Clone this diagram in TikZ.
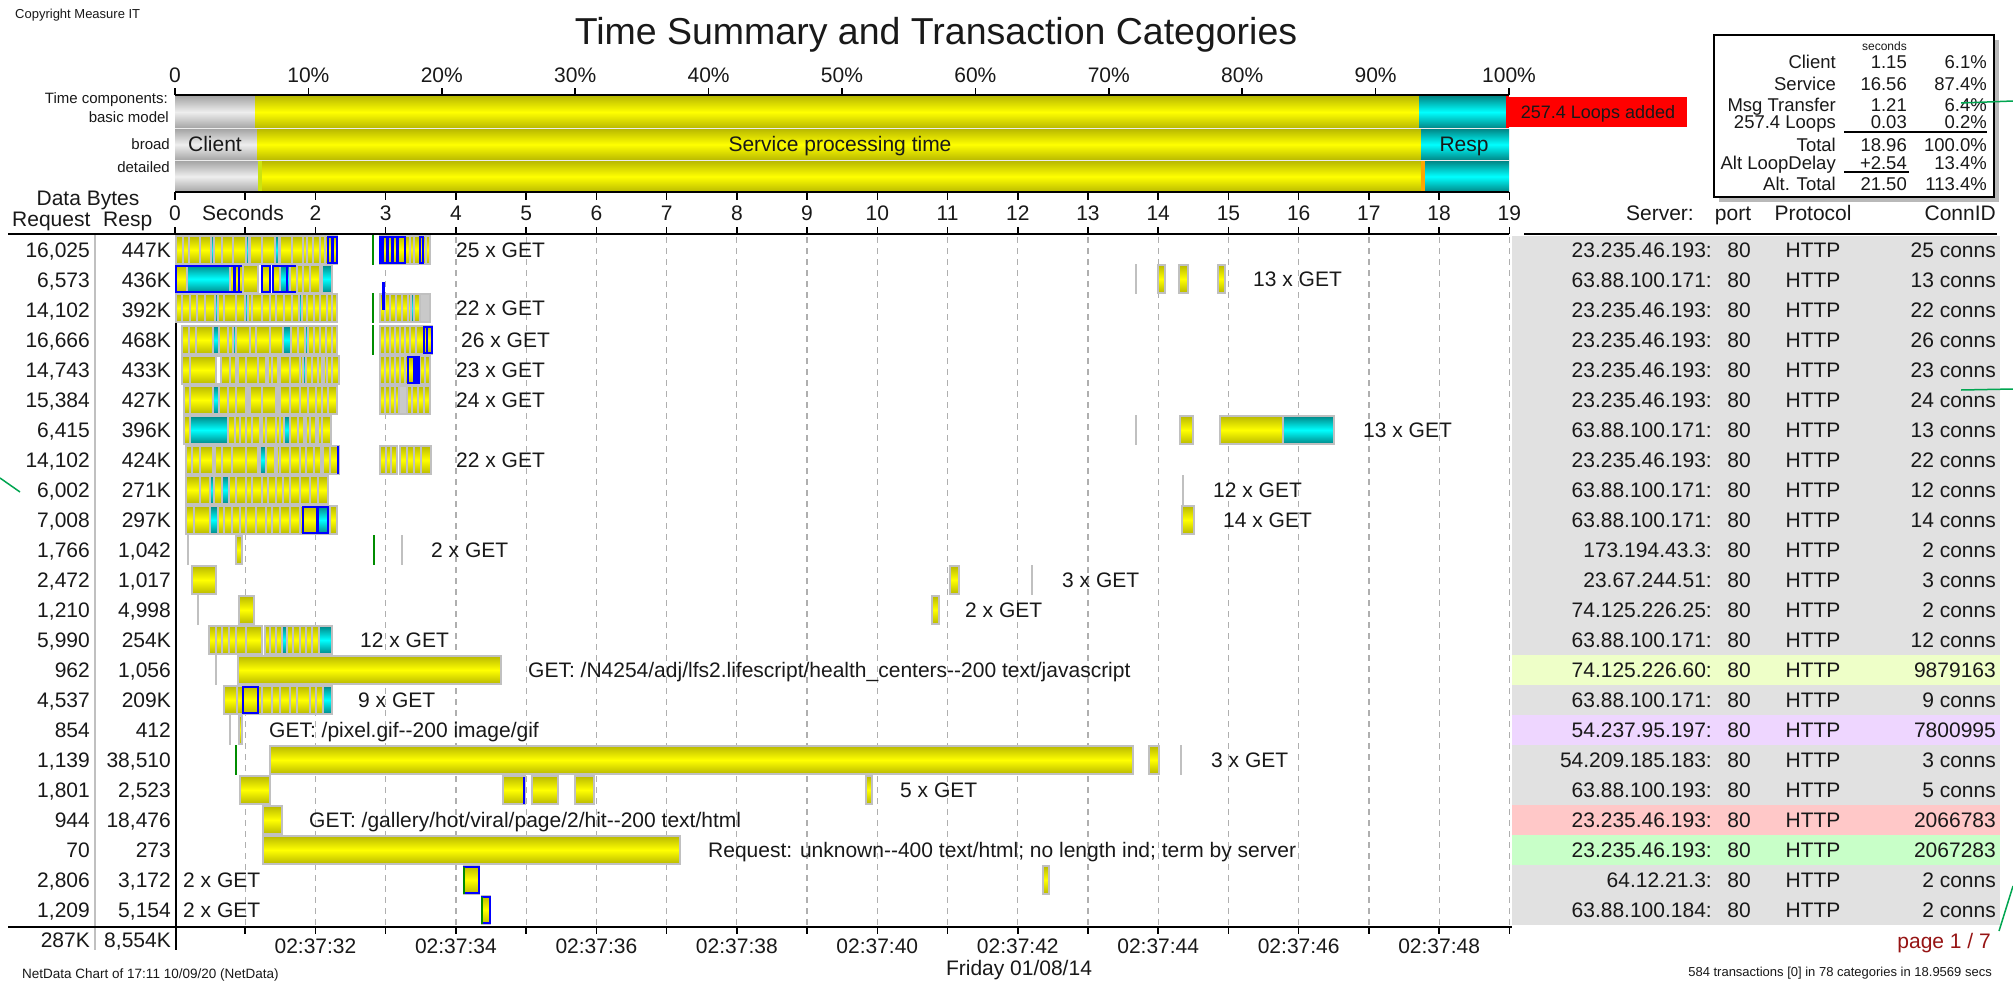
\documentclass[tikz,border=0pt]{standalone}
\usepackage{fontspec}
\setmainfont{Liberation Sans}
\definecolor{ink}{RGB}{25,25,25}
\definecolor{ydark}{RGB}{185,185,0}
\definecolor{ylite}{RGB}{255,255,0}
\definecolor{cdark}{RGB}{0,135,135}
\definecolor{clite}{RGB}{0,255,255}
\definecolor{gdark}{RGB}{165,165,165}
\definecolor{glite}{RGB}{238,238,238}
\definecolor{edge}{RGB}{192,192,192}
\definecolor{tablebg}{RGB}{225,225,225}
\definecolor{rowyel}{RGB}{238,255,200}
\definecolor{rowlav}{RGB}{238,214,255}
\definecolor{rowpink}{RGB}{255,200,200}
\definecolor{rowgreen}{RGB}{200,255,200}
\definecolor{gridgray}{RGB}{175,175,175}
\definecolor{annot}{RGB}{0,165,80}
\definecolor{pagered}{RGB}{150,20,20}
\definecolor{conblue}{RGB}{0,0,255}
\definecolor{startgreen}{RGB}{0,140,0}
\newcommand\fsz[1]{\fontsize{#1}{#1}\selectfont}
\tikzset{
  yshade/.style={top color=ydark, bottom color=ydark, middle color=ylite},
  cshade/.style={top color=cdark, bottom color=cdark, middle color=clite},
  gshade/.style={top color=gdark, bottom color=gdark, middle color=glite},
  segedge/.style={draw=edge, line width=1.2pt},
  txt/.style={inner sep=0pt, text=ink, font=\fsz{21}},
  leg/.style={inner sep=0pt, text=ink, font=\fsz{18.5}},
  small/.style={inner sep=0pt, text=ink, font=\fsz{13}},
  axisline/.style={black, line width=1.5pt},
  gridline/.style={gridgray, line width=1.2pt, dash pattern=on 6pt off 5pt},
  annotline/.style={annot, line width=1.5pt},
}
% transaction segments: x1, x2, row centre
\newcommand\txy[3]{\shadedraw[yshade,segedge] (#1,#3-14) rectangle (#2,#3+14);}
\newcommand\txc[3]{\shadedraw[cshade,segedge] (#1,#3-14) rectangle (#2,#3+14);}
\newcommand\txb[3]{\draw[conblue,line width=1.6pt] (#1,#3-13) rectangle (#2,#3+13);}
\newcommand\txbf[3]{\fill[conblue] (#1,#3-14) rectangle (#2,#3+14);}
\newcommand\txd[2]{\foreach \dv in {#2}{\draw[segedge] (\dv,#1-14) -- (\dv,#1+14);}}
\newcommand\txg[2]{\draw[edge,line width=1.6pt] (#1,#2-15) -- (#1,#2+15);}
\newcommand\txs[2]{\draw[startgreen,line width=1.6pt] (#1,#2-15) -- (#1,#2+15);}
\begin{document}
\begin{tikzpicture}[x=1pt,y=-1pt]
\useasboundingbox (0,0) rectangle (2013,980);
\fill[white] (0,0) rectangle (2013,980);

% ---------- headings ----------
\node[small, anchor=base west] (copy) at (15,18) {Copyright Measure IT};
\node[inner sep=0pt, text=ink, font=\fsz{37.5}, anchor=base] (title) at (936,44) {Time Summary and Transaction Categories};

% ---------- time components chart ----------
\foreach \k/\lab in {0/0,1/10\%,2/20\%,3/30\%,4/40\%,5/50\%,6/60\%,7/70\%,8/80\%,9/90\%,10/100\%}{
  \node[txt, anchor=base] (pct\k) at ({175+133.4*\k},82) {\lab};
  \draw[axisline] ({175+133.4*\k},88) -- ({175+133.4*\k},95);
}
\node[inner sep=0pt, text=ink, font=\fsz{15}, anchor=base east] (tc1) at (168,103) {Time components:};
\node[inner sep=0pt, text=ink, font=\fsz{15}, anchor=base east] (tc2) at (169,122) {basic model};
\node[inner sep=0pt, text=ink, font=\fsz{15}, anchor=base east] (tc3) at (170,149) {broad};
\node[inner sep=0pt, text=ink, font=\fsz{15}, anchor=base east] (tc4) at (170,172) {detailed};

% basic model
\shade[gshade] (175,96) rectangle (255,128);
\shade[yshade] (255,96) rectangle (1419,128);
\shade[cshade] (1419,96) rectangle (1507,128);
\fill[red] (1506,96) rectangle (1509,128);
% broad
\shade[gshade] (175,129) rectangle (257,160);
\shade[yshade] (257,129) rectangle (1421,160);
\shade[cshade] (1421,129) rectangle (1509,160);
% detailed
\shade[gshade] (175,161) rectangle (258,192);
\fill[yellow!80!green] (258,161) rectangle (262,192);
\shade[yshade] (262,161) rectangle (1421,192);
\fill[orange!70!yellow] (1421,161) rectangle (1425,192);
\shade[cshade] (1425,161) rectangle (1509,192);
\draw[white!85!gray, line width=1.5pt] (175,128.5) -- (1509,128.5) (175,160.5) -- (1509,160.5);

\node[txt, anchor=base] (client) at (215,151) {Client};
\node[txt, anchor=base] (service) at (840,151) {Service processing time};
\node[txt, anchor=base] (resp) at (1464,151) {Resp};

\fill[red] (1509,97) rectangle (1687,127);
\node[inner sep=0pt, text=ink, font=\fsz{18}, anchor=base] (loops) at (1598,118) {257.4 Loops added};

\draw[axisline] (175,95) -- (1509,95);
\draw[axisline] (175,192) -- (1509,192);

% ---------- seconds axis ----------
\foreach \k in {0,...,19}{
  \draw[axisline] ({175+70.23*\k},192) -- ({175+70.23*\k},200);
  \draw[axisline] ({175+70.23*\k},227) -- ({175+70.23*\k},234);
}
\foreach \k in {0,2,3,...,19}{
  \node[txt, anchor=base] (sec\k) at ({175+70.23*\k},220) {\k};
}
\node[txt, anchor=base] (seclab) at (243,220) {Seconds};

\node[txt, anchor=base] (databytes) at (88,205) {Data Bytes};
\node[txt, anchor=base west] (hreq) at (12,226) {Request};
\node[txt, anchor=base west] (hresp) at (103,226) {Resp};

\node[txt, anchor=base east] (hsrv) at (1694,220) {Server:};
\node[txt, anchor=base] (hport) at (1733,220) {port};
\node[txt, anchor=base] (hprot) at (1813,220) {Protocol};
\node[txt, anchor=base east] (hcid) at (1996,220) {ConnID};

% ---------- right table background ----------
\fill[tablebg] (1512,236) rectangle (2000,925);
\fill[rowyel] (1512,655) rectangle (2000,685);
\fill[rowlav] (1512,715) rectangle (2000,745);
\fill[rowpink] (1512,805) rectangle (2000,835);
\fill[rowgreen] (1512,835) rectangle (2000,865);

% ---------- grid ----------
\foreach \k in {1,...,19}{
  \draw[gridline] ({175+70.23*\k},237) -- ({175+70.23*\k},925);
}

\draw[axisline] (8,234) -- (1509,234);
\draw[axisline] (1524,234) -- (1997,234);
\draw[edge, line width=1.5pt] (95,235) -- (95,950);
\draw[axisline] (176,234) -- (176,950);
\draw[axisline] (8,927) -- (1512,927);
\foreach \k in {1,...,19}{
  \draw[axisline] ({175+70.23*\k},927) -- ({175+70.23*\k},934);
}

% ---------- table rows ----------
\foreach \rq/\rs/\sv/\cid [count=\i] in {
 {16,025}/447K/23.235.46.193/25 conns,
 {6,573}/436K/63.88.100.171/13 conns,
 {14,102}/392K/23.235.46.193/22 conns,
 {16,666}/468K/23.235.46.193/26 conns,
 {14,743}/433K/23.235.46.193/23 conns,
 {15,384}/427K/23.235.46.193/24 conns,
 {6,415}/396K/63.88.100.171/13 conns,
 {14,102}/424K/23.235.46.193/22 conns,
 {6,002}/271K/63.88.100.171/12 conns,
 {7,008}/297K/63.88.100.171/14 conns,
 {1,766}/{1,042}/173.194.43.3/2 conns,
 {2,472}/{1,017}/23.67.244.51/3 conns,
 {1,210}/{4,998}/74.125.226.25/2 conns,
 {5,990}/254K/63.88.100.171/12 conns,
 962/{1,056}/74.125.226.60/9879163,
 {4,537}/209K/63.88.100.171/9 conns,
 854/412/54.237.95.197/7800995,
 {1,139}/{38,510}/54.209.185.183/3 conns,
 {1,801}/{2,523}/63.88.100.193/5 conns,
 944/{18,476}/23.235.46.193/2066783,
 70/273/23.235.46.193/2067283,
 {2,806}/{3,172}/64.12.21.3/2 conns,
 {1,209}/{5,154}/63.88.100.184/2 conns}{
  \node[txt, anchor=base east] (rq\i) at (90,{227+30*\i}) {\rq};
  \node[txt, anchor=base east] (rs\i) at (171,{227+30*\i}) {\rs};
  \node[txt, anchor=base east] (sv\i) at (1712,{227+30*\i}) {\sv:};
  \node[txt, anchor=base] (pt\i) at (1739,{227+30*\i}) {80};
  \node[txt, anchor=base] (pr\i) at (1813,{227+30*\i}) {HTTP};
  \node[txt, anchor=base east] (ci\i) at (1996,{227+30*\i}) {\cid};
}

% ---------- transaction bars ----------
% row 1
\txy{176}{337}{250}
\txd{250}{183,189,200,212,222,233,246,250,262,276,280,292,303,307,313,320,325}
\txc{211}{214}{250}\txc{246}{249}{250}\txc{275}{279}{250}
\txbf{331}{334}{250}\txb{328}{337}{250}
\txs{373}{250}
\txy{380}{430}{250}
\txd{250}{405,410,414,420,426}
\txbf{381}{384}{250}\txbf{386}{389}{250}\txbf{391}{394}{250}\txbf{396}{399}{250}
\txb{380}{405}{250}\txb{420}{423}{250}
% row 2
\txy{176}{187}{279}\txc{187}{230}{279}\txy{230}{243}{279}
\txbf{233}{236}{279}\txbf{238}{240}{279}
\txb{176}{243}{279}
\txy{243}{258}{279}
\txy{262}{270}{279}\txb{262}{270}{279}
\txy{273}{297}{279}\txc{280}{290}{279}\txb{273}{297}{279}\txbf{286}{288}{279}
\txy{297}{303}{279}\txy{303}{320}{279}\txd{279}{310}
\txc{322}{332}{279}
\txg{1136}{279}
\txy{1158}{1165}{279}\txy{1179}{1188}{279}\txy{1218}{1225}{279}
% row 3
\txy{176}{337}{308}
\txd{308}{182,190,197,205,216,224,236,246,252,262,270,276,284,292,300,307,314,320,327,332}
\txc{215}{218}{308}\txc{245}{248}{308}\txc{299}{302}{308}
\txs{373}{308}
\txy{380}{430}{308}
\txd{308}{385,390,396,402,408,414,420}
\txc{411}{414}{308}
\fill[gdark!60] (421,295) rectangle (429,321);
\txbf{382}{385}{296}
% row 4
\txy{182}{337}{340}
\txd{340}{189,196,213,219,228,233,236,250,256,270,283,291,298,305,308,314,320,326,332}
\txc{213}{219}{340}\txc{233}{236}{340}\txc{283}{291}{340}\txc{305}{308}{340}
\txs{373}{340}
\txy{380}{432}{340}
\txd{340}{385,390,395,400,405,410,416}
\txb{424}{432}{340}\txbf{426}{428}{340}
% row 5
\txy{182}{339}{370}
\txd{370}{190,216,221,230,238,246,258,268,272,280,290,300,306,312,318,324,327,332}
\fill[white] (217,357) rectangle (220,383);
\txc{236}{238}{370}\txc{266}{268}{370}\txc{278}{280}{370}\txc{303}{306}{370}\txc{322}{324}{370}
\txy{380}{430}{370}
\txd{370}{385,390,395,400,405,420,425}
\txbf{413}{419}{370}\txb{408}{419}{370}
% row 6
\txy{184}{337}{400}
\txd{400}{190,213,219,228,236,246,250,262,276,280,290,300,308,316,322,328}
\txc{213}{219}{400}\txc{246}{248}{400}\txc{276}{278}{400}
\txy{380}{430}{400}
\fill[gdark!60] (399,387) rectangle (407,413);
\txd{400}{385,390,395,399,407,412,418,424}
% row 7
\txy{184}{331}{430}
\txc{190}{228}{430}
\txd{430}{235,240,246,252,260,266,276,280,284,290,298,304,310,316,322}
\txc{260}{262}{430}\txc{284}{290}{430}\txc{304}{306}{430}\txc{316}{318}{430}
\txg{1136}{430}
\txy{1180}{1193}{430}
\txy{1220}{1283}{430}\txc{1283}{1334}{430}
% row 8
\txy{186}{339}{460}
\txd{460}{192,200,213,215,222,232,246,258,266,275,280,290,300,306,314,321,323,330}
\txc{213}{215}{460}\txc{260}{266}{460}\txc{275}{277}{460}\txc{321}{323}{460}
\draw[conblue, line width=2pt] (338,446) -- (338,474);
\txy{380}{397}{460}\txd{460}{386,391}
\txy{400}{431}{460}\txd{460}{407,414,421}
% row 9
\txy{186}{328}{490}
\txd{490}{200,210,214,222,229,236,246,252,262,268,276,283,290,300,310,318}
\txc{210}{214}{490}\txc{222}{229}{490}
\txg{1183}{490}
% row 10
\txy{186}{337}{520}
\txd{520}{194,210,218,224,232,240,246,256,266,272,280,290,300,303}
\txc{210}{218}{520}\txc{318}{330}{520}
\txb{303}{328}{520}\txbf{316}{319}{520}
\txy{1182}{1194}{520}
% row 11
\txg{188}{550}
\txy{236}{242}{550}
\txs{374}{550}
\txg{402}{550}
% row 12
\txy{192}{216}{580}
\txy{950}{959}{580}
\txg{1032}{580}
% row 13
\txg{198}{610}
\txy{239}{254}{610}
\txy{932}{939}{610}
% row 14
\txy{209}{262}{640}\txd{640}{216,222,229,236,246}
\txy{265}{332}{640}\txd{640}{270,276,282,287,293,300,306,312,319}
\txc{282}{287}{640}\txc{319}{332}{640}
% row 15
\txg{216}{670}
\txy{238}{501}{670}
% row 16
\txy{224}{330}{700}
\txd{700}{237,262,272,280,290,297,310,316}
\txb{243}{258}{700}
\txc{323}{332}{700}
% row 17
\txg{230}{730}
\txy{239}{242}{730}
% row 18
\txs{236}{760}
\txy{270}{1133}{760}
\txy{1149}{1159}{760}
\txg{1181}{760}
% row 19
\txy{240}{270}{790}
\txy{503}{525}{790}\draw[conblue, line width=1.6pt] (524,777) -- (524,804);
\txy{532}{558}{790}
\txy{575}{594}{790}
\txy{866}{872}{790}
% row 20
\txy{263}{282}{820}
% row 21
\txy{263}{680}{850}
% row 22
\txy{464}{479}{880}\txb{464}{479}{880}\draw[startgreen, line width=1.6pt] (464,867) -- (464,894);
\txy{1043}{1049}{880}
% row 23
\txy{482}{490}{910}\txb{482}{490}{910}\draw[startgreen, line width=1.6pt] (482,897) -- (482,924);

% ---------- bar labels ----------
\node[txt, anchor=base west] (lab1) at (456,257) {25 x GET};
\node[txt, anchor=base west] (lab2) at (1253,286) {13 x GET};
\node[txt, anchor=base west] (lab3) at (456,315) {22 x GET};
\node[txt, anchor=base west] (lab4) at (461,347) {26 x GET};
\node[txt, anchor=base west] (lab5) at (456,377) {23 x GET};
\node[txt, anchor=base west] (lab6) at (456,407) {24 x GET};
\node[txt, anchor=base west] (lab7) at (1363,437) {13 x GET};
\node[txt, anchor=base west] (lab8) at (456,467) {22 x GET};
\node[txt, anchor=base west] (lab9) at (1213,497) {12 x GET};
\node[txt, anchor=base west] (lab10) at (1223,527) {14 x GET};
\node[txt, anchor=base west] (lab11) at (431,557) {2 x GET};
\node[txt, anchor=base west] (lab12) at (1062,587) {3 x GET};
\node[txt, anchor=base west] (lab13) at (965,617) {2 x GET};
\node[txt, anchor=base west] (lab14) at (360,647) {12 x GET};
\node[txt, anchor=base west] (lab15) at (528,677) {GET: /N4254/adj/lfs2.lifescript/health\_centers-{}-200 text/javascript};
\node[txt, anchor=base west] (lab16) at (358,707) {9 x GET};
\node[txt, anchor=base west] (lab17) at (269,737) {GET: /pixel.gif-{}-200 image/gif};
\node[txt, anchor=base west] (lab18) at (1211,767) {3 x GET};
\node[txt, anchor=base west] (lab19) at (900,797) {5 x GET};
\node[txt, anchor=base west] (lab20) at (309,827) {GET: /gallery/hot/viral/page/2/hit-{}-200 text/html};
\node[txt, anchor=base west] (lab21) at (708,857) {Request: unknown-{}-400 text/html; no length ind; term by server};
\node[txt, anchor=base west] (lab22) at (183,887) {2 x GET};
\node[txt, anchor=base west] (lab23) at (183,917) {2 x GET};

% ---------- footer ----------
\node[txt, anchor=base east] (treq) at (90,947) {287K};
\node[txt, anchor=base east] (tresp) at (171,947) {8,554K};
\foreach \k in {2,4,...,18}{
  \pgfmathtruncatemacro\sc{30+\k}
  \node[txt, anchor=base] (clk\k) at ({175+70.23*\k},953) {02:37:\sc};
}
\node[txt, anchor=base] (day) at (1019,975) {Friday 01/08/14};
\node[inner sep=0pt, text=ink, font=\fsz{13.5}, anchor=base west] (netdata) at (22,978) {NetData Chart of 17:11 10/09/20 (NetData)};
\node[inner sep=0pt, text=pagered, font=\fsz{21}, anchor=base east] (page) at (1991,948) {page 1 / 7};
\node[small, anchor=base east] (summary) at (1992,976) {584 transactions [0] in 78 categories in 18.9569 secs};

% ---------- totals box ----------
\fill[gray!55] (1719,40) rectangle (1999,202);
\draw[fill=white, line width=2pt] (1714,35) rectangle (1994,197);
\node[inner sep=0pt, text=ink, font=\fsz{12}, anchor=base east] (secs) at (1907,50) {seconds};
\foreach \lab/\val/\pc/\yy [count=\j] in {
  Client/1.15/6.1\%/62,
  Service/16.56/87.4\%/84,
  Msg Transfer/1.21/6.4\%/105,
  257.4 Loops/0.03/0.2\%/122,
  Total/18.96/100.0\%/145,
  Alt LoopDelay/+2.54/13.4\%/163,
  Alt. Total/21.50/113.4\%/184}{
  \node[leg, anchor=base east] (tl\j) at (1836,\yy+6.5) {\lab};
  \node[leg, anchor=base east] (tv\j) at (1907,\yy+6.5) {\val};
  \node[leg, anchor=base east] (tp\j) at (1987,\yy+6.5) {\pc};
}
\draw[line width=1.5pt] (1844,132) -- (1987,132);
\draw[line width=1.5pt] (1844,172) -- (1909,172);

% ---------- green pointer strokes ----------
\draw[annotline] (1961,103) -- (2013,101);
\draw[annotline] (1961,390) -- (2013,389);
\draw[annotline] (0,478) -- (20,492);
\draw[annotline] (1999,931) -- (2013,886);
\end{tikzpicture}
\end{document}
